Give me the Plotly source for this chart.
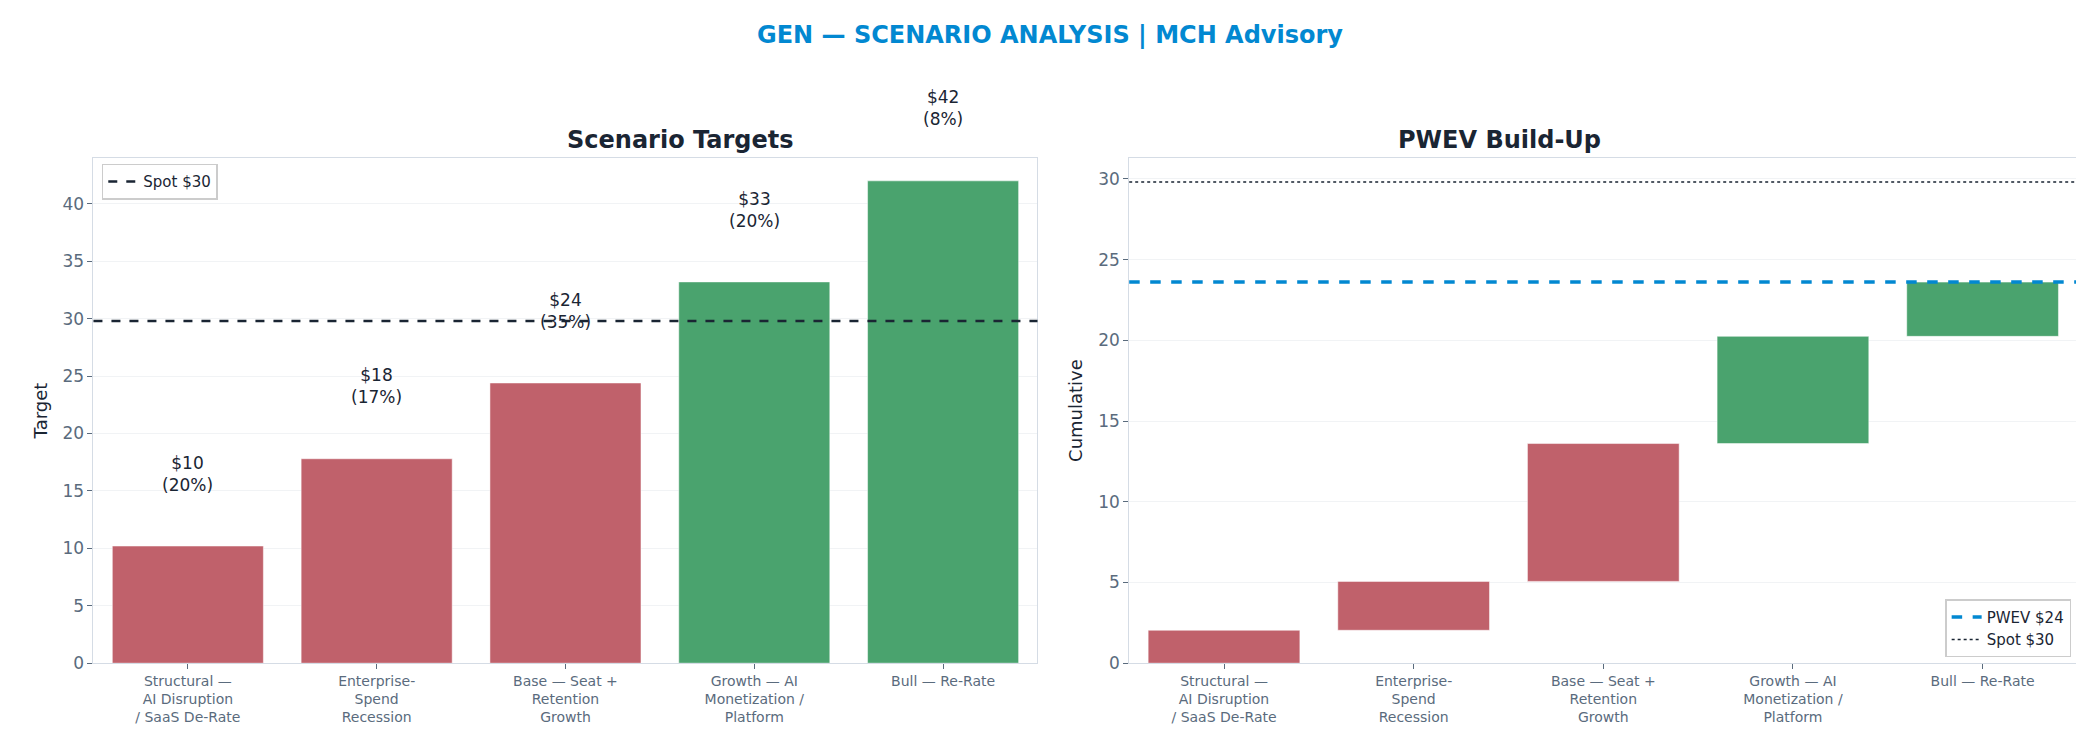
import plotly.graph_objects as go

SCENARIOS = [
    "Structural —<br>AI Disruption<br>/ SaaS De-Rate",
    "Enterprise-<br>Spend<br>Recession",
    "Base — Seat +<br>Retention<br>Growth",
    "Growth — AI<br>Monetization /<br>Platform",
    "Bull — Re-Rate",
]
TARGETS = [10.2, 17.8, 24.4, 33.2, 42.0]
PROBS = [0.20, 0.17, 0.35, 0.20, 0.08]
SPOT = 29.8
RED = "#c0616b"
GREEN = "#4aa36e"
FONT = "DejaVu Sans"

Y_DOM = [0.117, 0.798]
Y1_MAX = 44

colors = [RED if t < SPOT else GREEN for t in TARGETS]
contrib = [t * p for t, p in zip(TARGETS, PROBS)]
bases = []
run = 0.0
for c in contrib:
    bases.append(run)
    run += c
pwev = run

fig = go.Figure()
fig.add_trace(go.Bar(x=SCENARIOS, y=TARGETS, marker_color=colors, width=0.8,
                     showlegend=False, xaxis="x", yaxis="y"))
fig.add_trace(go.Bar(x=SCENARIOS, y=contrib, base=bases, marker_color=colors, width=0.8,
                     showlegend=False, xaxis="x2", yaxis="y2"))

ann = []
for s, t, p in zip(SCENARIOS, TARGETS, PROBS):
    # paper y so the label above the top of the axis stays visible
    py = Y_DOM[0] + (t + 4.3) / Y1_MAX * (Y_DOM[1] - Y_DOM[0])
    ann.append(dict(x=s, y=py, xref="x", yref="paper", yanchor="bottom", showarrow=False,
                    text=f"${t:.0f}<br>({p*100:.0f}%)", font=dict(size=17, color="#1a2533")))
ann.append(dict(x=0.5, y=0.985, xref="paper", yref="paper", showarrow=False,
                text="<b>GEN — SCENARIO ANALYSIS | MCH Advisory</b>",
                font=dict(size=24, color="#0288d1")))
ann.append(dict(x=0.2675, y=0.80, xref="paper", yref="paper", yanchor="bottom", showarrow=False,
                text="<b>Scenario Targets</b>", font=dict(size=24, color="#1a2533")))
ann.append(dict(x=0.7655, y=0.80, xref="paper", yref="paper", yanchor="bottom", showarrow=False,
                text="<b>PWEV Build-Up</b>", font=dict(size=24, color="#1a2533")))

shapes = [
    dict(type="line", xref="x domain", yref="y", x0=0, x1=1, y0=SPOT, y1=SPOT,
         line=dict(color="#1a2533", width=2.5, dash="dash")),
    dict(type="line", xref="x2 domain", yref="y2", x0=0, x1=1, y0=pwev, y1=pwev,
         line=dict(color="#0288d1", width=3.5, dash="dash")),
    dict(type="line", xref="x2 domain", yref="y2", x0=0, x1=1, y0=SPOT, y1=SPOT,
         line=dict(color="#1a2533", width=1.5, dash="dot")),
]

fig.add_trace(go.Scatter(x=[None], y=[None], mode="lines", name=f"Spot ${SPOT:.0f}",
                         line=dict(color="#1a2533", width=2.5, dash="dash"),
                         xaxis="x", yaxis="y", legend="legend"))
fig.add_trace(go.Scatter(x=[None], y=[None], mode="lines", name=f"PWEV ${pwev:.0f}",
                         line=dict(color="#0288d1", width=3.5, dash="dash"),
                         xaxis="x2", yaxis="y2", legend="legend2"))
fig.add_trace(go.Scatter(x=[None], y=[None], mode="lines", name=f"Spot ${SPOT:.0f}",
                         line=dict(color="#1a2533", width=1.5, dash="dot"),
                         xaxis="x2", yaxis="y2", legend="legend2"))

axis_common = dict(showline=True, linecolor="#d5dce5", mirror=True, ticks="outside",
                   tickcolor="#5a6b7d", tickfont=dict(size=17, color="#5a6b7d"),
                   zeroline=False, automargin=False)
xcommon = dict(showline=True, linecolor="#d5dce5", mirror=True, ticks="outside",
               tickcolor="#5a6b7d", tickfont=dict(size=14, color="#5a6b7d"),
               showgrid=False, automargin=False)

fig.update_layout(
    width=2084, height=742, template="plotly_white", bargap=0.2,
    font=dict(family=FONT, color="#1a2533"),
    margin=dict(l=0, r=0, t=0, b=0),
    plot_bgcolor="white", paper_bgcolor="white",
    xaxis=dict(domain=[0.041, 0.494], **xcommon),
    yaxis=dict(domain=Y_DOM, range=[0, Y1_MAX], dtick=5,
               title=dict(text="Target", font=dict(size=18), standoff=10),
               gridcolor="#f1f3f5", **axis_common),
    xaxis2=dict(domain=[0.538, 0.993], anchor="y2", **xcommon),
    yaxis2=dict(domain=Y_DOM, range=[0, 31.3], dtick=5, anchor="x2",
                title=dict(text="Cumulative", font=dict(size=18), standoff=10),
                gridcolor="#f1f3f5", **axis_common),
    legend=dict(x=0.045, y=0.79, xref="paper", yref="paper", xanchor="left", yanchor="top",
                bordercolor="#cccccc", borderwidth=1.5, bgcolor="white", font=dict(size=15)),
    legend2=dict(x=0.99, y=0.125, xref="paper", yref="paper", xanchor="right", yanchor="bottom",
                 bordercolor="#cccccc", borderwidth=1.5, bgcolor="white", font=dict(size=15)),
    annotations=ann, shapes=shapes,
)
fig.write_html("out.html")
